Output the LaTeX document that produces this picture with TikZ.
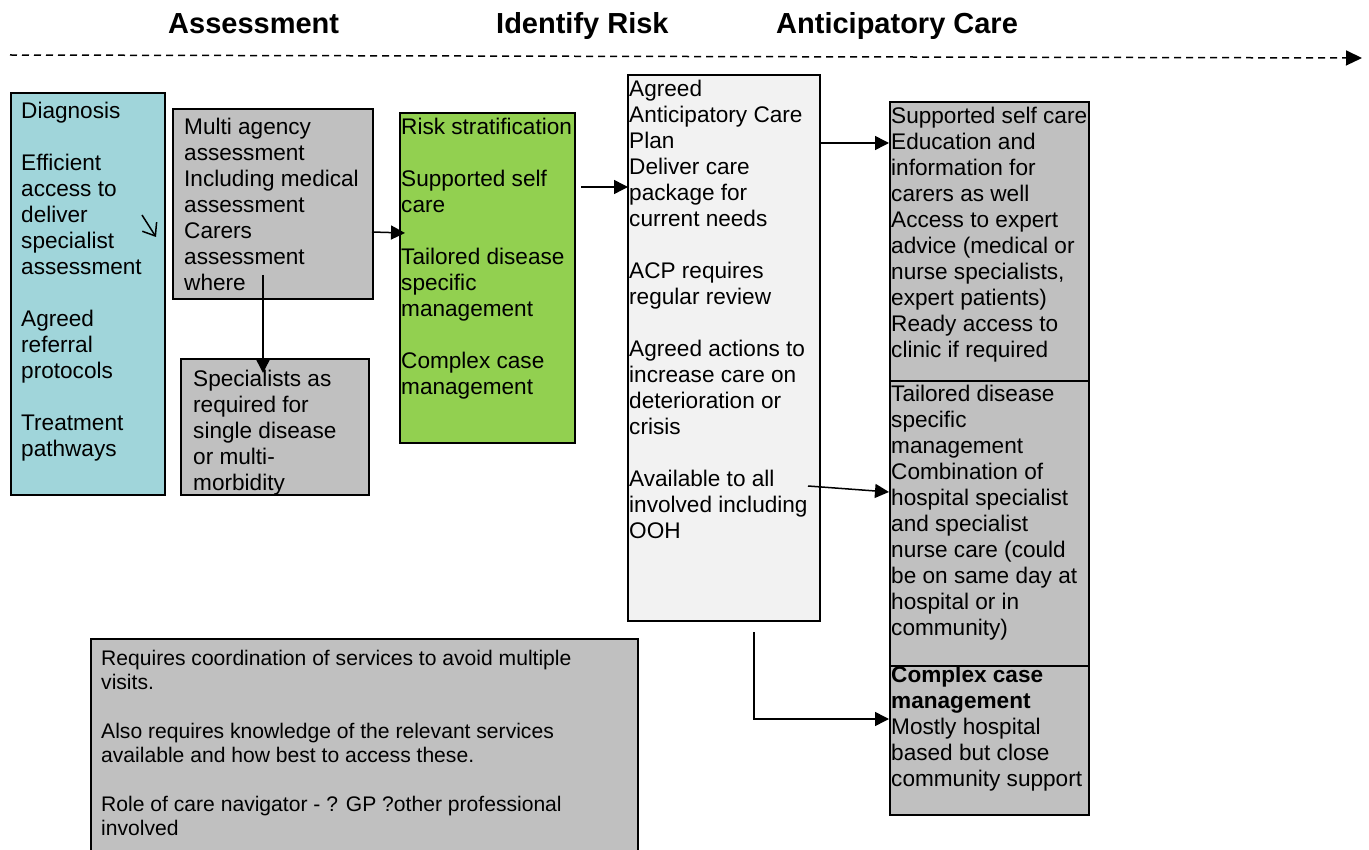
\documentclass[tikz,border=0pt]{standalone}
\usepackage{fontspec}
\setmainfont{Liberation Sans}
\usepackage{tikz}
\usetikzlibrary{arrows.meta}

\definecolor{diagcol}{HTML}{A0D5DA}
\definecolor{greycol}{HTML}{C0C0C0}
\definecolor{riskcol}{HTML}{92D050}
\definecolor{acpcol}{HTML}{F2F2F2}

\begin{document}
\begin{tikzpicture}[x=1pt, y=-1pt]
      \tikzstyle{box} = [rectangle, draw=black, line width=1.6pt, anchor=north west, inner sep=0pt]
      \tikzstyle{txt} = [anchor=north west, inner sep=0pt, align=left, font=\fontsize{22.6}{26}\selectfont]
      \tikzstyle{notetxt} = [anchor=north west, inner sep=0pt, align=left, font=\fontsize{21.1}{24.3}\selectfont]
      \tikzstyle{heading} = [anchor=base west, inner sep=0pt, font=\fontsize{29}{34}\selectfont\bfseries]
      \tikzstyle{arrow} = [line width=1.5pt, -{Triangle[length=14pt, width=14pt]}]

      \useasboundingbox (0,0) rectangle (1369,850);

      % headings and time line
      \node (hassess) [heading] at (168,34) {Assessment};
      \node (hrisk) [heading] at (496,34) {Identify Risk};
      \node (hcare) [heading] at (776,34) {Anticipatory Care};
      \coordinate (tstart) at (10,55);
      \coordinate (tend) at (1362,58);
      \draw [line width=1.5pt, dash pattern=on 7pt off 5pt, -{Triangle[length=16pt, width=15pt]}] (tstart) -- (tend);

      % boxes
      \node (diag) [box, fill=diagcol, minimum width=154pt, minimum height=402pt] at (10,92) {};
      \node (multi) [box, fill=greycol, minimum width=200pt, minimum height=190pt] at (172,108) {};
      \node (spec) [box, fill=greycol, minimum width=188pt, minimum height=136pt] at (180,358) {};
      \node (risk) [box, fill=riskcol, minimum width=175pt, minimum height=330pt] at (399,112) {};
      \node (acp) [box, fill=acpcol, minimum width=192pt, minimum height=546pt] at (627,74) {};
      \node (self) [box, fill=greycol, minimum width=199pt, minimum height=279pt] at (889,101) {};
      \node (tail) [box, fill=greycol, minimum width=199pt, minimum height=285pt] at (889,380) {};
      \node (cplx) [box, fill=greycol, minimum width=199pt, minimum height=149pt] at (889,665) {};
      \node (note) [box, fill=greycol, minimum width=547pt, minimum height=232pt] at (90,638) {};

      % texts
      \node (diagtxt) [txt] at (21,100) {\strut Diagnosis\\[26pt]Efficient\\access to\\deliver\\specialist\\assessment\\[26pt]Agreed\\referral\\protocols\\[26pt]Treatment\\pathways};
      \begin{scope}
            \clip (multi.north west) rectangle (multi.south east);
            \node (multitxt) [txt] at (184,116) {\strut Multi agency\\assessment\\Including medical\\assessment\\Carers\\assessment\\where};
      \end{scope}
      \begin{scope}
            \clip (spec.north west) rectangle (spec.south east);
            \node (spectxt) [txt] at (193,368) {\strut Specialists as\\required for\\single disease\\or multi-\\morbidity};
      \end{scope}
      \node (risktxt) [txt] at (401,116) {\strut Risk stratification\\[26pt]Supported self\\care\\[26pt]Tailored disease\\specific\\management\\[26pt]Complex case\\management};
      \node (acptxt) [txt] at (629,78) {\strut Agreed\\Anticipatory Care\\Plan\\Deliver care\\package for\\current needs\\[26pt]ACP requires\\regular review\\[26pt]Agreed actions to\\increase care on\\deterioration or\\crisis\\[26pt]Available to all\\involved including\\OOH};
      \node (selftxt) [txt] at (891,105) {\strut Supported self care\\Education and\\information for\\carers as well\\Access to expert\\advice (medical or\\nurse specialists,\\expert patients)\\Ready access to\\clinic if required};
      \node (tailtxt) [txt] at (891,383) {\strut Tailored disease\\specific\\management\\Combination of\\hospital specialist\\and specialist\\nurse care (could\\be on same day at\\hospital or in\\community)};
      \node (cplxtxt) [txt] at (891,664) {\strut\textbf{Complex case}\\\textbf{management}\\Mostly hospital\\based but close\\community support};
      \node (notetxt) [notetxt] at (101,648) {\strut Requires coordination of services to avoid multiple\\visits.\\[24.3pt]Also requires knowledge of the relevant services\\available and how best to access these.\\[24.3pt]Role of care navigator - ? GP ?other professional\\involved};

      % connectors
      \coordinate (tickA) at (142,215);
      \coordinate (tickB) at (156,237);
      \draw [line width=1.5pt, -{Straight Barb[length=11pt, width=17pt]}] (tickA) -- (tickB);

      \coordinate (m1) at (372,232);
      \coordinate (r1) at (405,233);
      \draw [arrow] (m1) -- (r1);

      \coordinate (m2) at (263,275);
      \coordinate (s1) at (263,373);
      \draw [arrow] (m2) -- (s1);

      \coordinate (r2) at (581,187);
      \coordinate (a1) at (628,187);
      \draw [arrow] (r2) -- (a1);

      \coordinate (a2) at (819,143);
      \coordinate (sf1) at (889,143);
      \draw [arrow] (a2) -- (sf1);

      \coordinate (a3) at (808,486);
      \coordinate (t1) at (889,492);
      \draw [arrow] (a3) -- (t1);

      \coordinate (a4) at (754,632);
      \coordinate (c1) at (889,719);
      \draw [arrow] (a4) -- (a4 |- c1) -- (c1);

\end{tikzpicture}
\end{document}
